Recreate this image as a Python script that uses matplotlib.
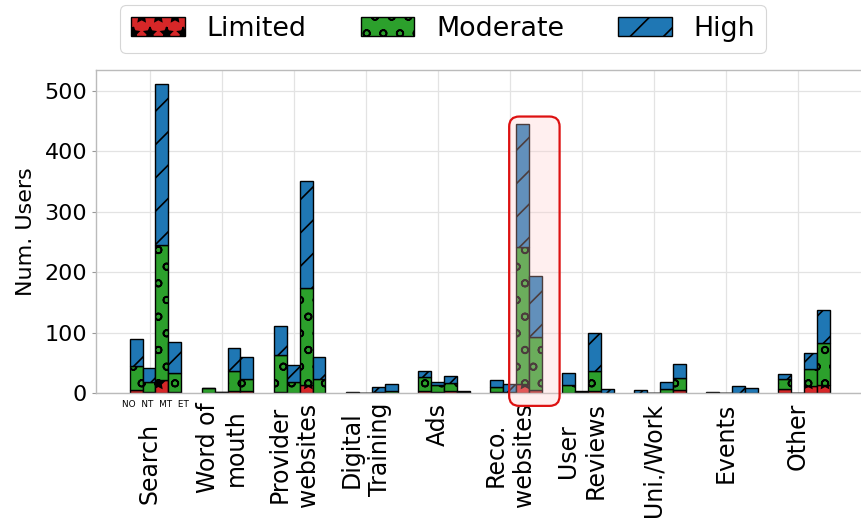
import matplotlib
matplotlib.use("Agg")
import matplotlib.pyplot as plt
import matplotlib.transforms as mtransforms
from matplotlib.patches import FancyBboxPatch, Patch
import numpy as np

categories = ["Search", "Word of\nmouth", "Provider\nwebsites", "Digital\nTraining", "Ads",
              "Reco.\nwebsites", "User\nReviews", "Uni./Work", "Events", "Other"]
groups = ["NO", "NT", "MT", "ET"]
levels = ["Limited", "Moderate", "High"]

# values per category, columns = NO, NT, MT, ET
limited = [[6, 2, 21, 2], [1, 1, 4, 3], [2, 1, 14, 1], [0, 0, 1, 1], [3, 2, 3, 1],
           [2, 1, 15, 5], [1, 1, 3, 0], [0, 0, 1, 5], [0, 0, 0, 0], [7, 0, 12, 14]]
moderate = [[39, 16, 224, 31], [7, 1, 32, 20], [61, 18, 160, 22], [0, 0, 1, 2], [23, 12, 14, 1],
            [9, 1, 227, 88], [12, 1, 34, 1], [1, 0, 6, 20], [0, 0, 1, 1], [17, 1, 28, 69]]
high = [[44, 23, 265, 52], [1, 0, 38, 36], [48, 28, 177, 36], [2, 1, 9, 12], [11, 5, 12, 2],
        [11, 13, 202, 101], [21, 1, 62, 6], [4, 1, 12, 23], [2, 1, 11, 7], [7, 0, 26, 55]]

colors = ["#d62728", "#2ca02c", "#1f77b4"]
hatches = ["**", "oo", "//"]

plt.rcParams["hatch.linewidth"] = 0.6
plt.rcParams["font.family"] = ["DejaVu Sans"]

fig = plt.figure(figsize=(4.31, 2.59), dpi=200)
ax = fig.add_axes([0.111, 0.241, 0.89, 0.624])
ax.set_axisbelow(True)

x = np.arange(len(categories))
offsets = [-0.19, -0.01, 0.17, 0.35]
width = 0.18
data = [np.array(limited, float), np.array(moderate, float), np.array(high, float)]

for g in range(len(groups)):
    bottom = np.zeros(len(categories))
    for k in range(3):
        vals = data[k][:, g]
        ax.bar(x + offsets[g], vals, width, bottom=bottom, color=colors[k],
               edgecolor="black", linewidth=0.5, hatch=hatches[k], zorder=2)
        bottom += vals

ax.set_xlim(-0.75, 9.9)
ax.set_ylim(0, 534)
ax.set_xticks(x)
ax.set_xticklabels(categories, rotation=90, fontsize=8.5, ha="center", va="top")
ax.set_yticks([0, 100, 200, 300, 400, 500])
ax.tick_params(axis="x", length=0, pad=3.4)
ax.tick_params(axis="y", length=1.5, width=0.4, color="#999999", pad=1.6, labelsize=8)
ax.set_ylabel("Num. Users", fontsize=8, labelpad=3)
ax.grid(True, color="#e3e3e3", linewidth=0.45)
for s in ["left", "top", "bottom"]:
    ax.spines[s].set_color("#bbbbbb")
    ax.spines[s].set_linewidth(0.5)
ax.spines["right"].set_visible(False)

# push the first category label down to make room for the group labels
lbl0 = ax.get_xticklabels()[0]
lbl0.set_transform(lbl0.get_transform() +
                   mtransforms.ScaledTranslation(0, -7.4 / 72, fig.dpi_scale_trans))

ax.text(np.mean(offsets), -19, "  ".join(groups), fontsize=3.2, ha="center", va="center",
        clip_on=False)

# highlight box
r = 0.14
box = FancyBboxPatch((4.99, -21), 0.70, 478,
                     boxstyle="round,pad=0,rounding_size=%f" % r,
                     mutation_aspect=118, facecolor=(1, 0.8, 0.8, 0.3),
                     edgecolor="#dd1111", linewidth=0.8, clip_on=False, zorder=5)
ax.add_patch(box)

handles = [Patch(facecolor=colors[k], edgecolor="black", hatch=hatches[k], linewidth=0.5,
                 label=levels[k]) for k in range(3)]
leg = fig.legend(handles=handles, loc="upper center", bbox_to_anchor=(0.514, 0.99), ncol=3,
                 fontsize=9.7, frameon=True, borderaxespad=0)
leg.get_frame().set_linewidth(0.4)
leg.get_frame().set_edgecolor("#cccccc")

fig.savefig("out.png", dpi=200)
